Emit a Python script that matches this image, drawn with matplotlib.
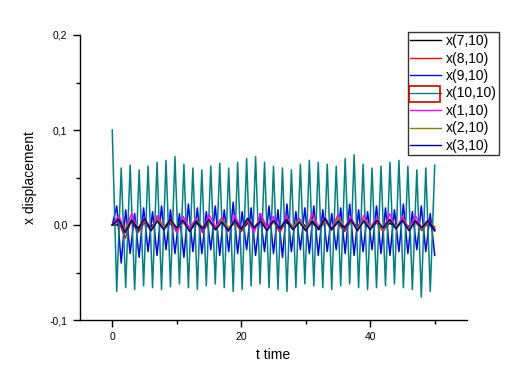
import numpy as np
import matplotlib
matplotlib.use("Agg")
import matplotlib.pyplot as plt
from matplotlib.patches import Rectangle
from matplotlib.ticker import MultipleLocator, FuncFormatter

plt.rcParams['font.family'] = ['Liberation Sans', 'DejaVu Sans']

# x(10,10): alternating extremes, start at t=0
x10_10 = [0.100,
          -0.070, 0.060, -0.066, 0.063, -0.068, 0.058, -0.064, 0.062, -0.066, 0.066,
          -0.068, 0.068, -0.065, 0.072, -0.062, 0.064, -0.066, 0.060, -0.068, 0.058,
          -0.064, 0.062, -0.062, 0.065, -0.066, 0.060, -0.070, 0.066, -0.068, 0.070,
          -0.064, 0.072, -0.062, 0.066, -0.066, 0.062, -0.068, 0.060, -0.070, 0.058,
          -0.066, 0.064, -0.062, 0.068, -0.064, 0.066, -0.066, 0.064, -0.068, 0.062,
          -0.064, 0.070, -0.062, 0.074, -0.066, 0.064, -0.068, 0.060, -0.066, 0.062,
          -0.064, 0.066, -0.062, 0.068, -0.066, 0.062, -0.068, 0.058, -0.076, 0.060,
          -0.070, 0.063]

# x(9,10): alternating extremes
x9_10 = [0.000,
         0.020, -0.040, 0.016, -0.030, 0.012, -0.034, 0.018, -0.028, 0.014, -0.032,
         0.020, -0.026, 0.016, -0.030, 0.012, -0.034, 0.022, -0.028, 0.018, -0.030,
         0.014, -0.026, 0.020, -0.032, 0.016, -0.028, 0.024, -0.030, 0.014, -0.026,
         0.018, -0.032, 0.012, -0.028, 0.020, -0.030, 0.016, -0.034, 0.022, -0.028,
         0.014, -0.026, 0.018, -0.030, 0.020, -0.032, 0.016, -0.028, 0.012, -0.026,
         0.018, -0.030, 0.022, -0.032, 0.016, -0.028, 0.014, -0.026, 0.020, -0.030,
         0.018, -0.032, 0.016, -0.028, 0.022, -0.030, 0.014, -0.026, 0.020, -0.028,
         0.012, -0.032]

# slower, small series sampled every 1 time unit (t = 0..50)
x7_10 = [0.000, 0.000, -0.004, 0.003, -0.006, 0.004, -0.002, 0.005, -0.004, 0.002,
         -0.005, 0.003, -0.006, 0.002, -0.003, 0.004, -0.002, 0.005, -0.004, 0.003,
         -0.006, 0.002, -0.003, 0.005, -0.002, 0.004, -0.005, 0.003, -0.004, 0.006,
         -0.002, 0.003, -0.005, 0.004, -0.003, 0.002, -0.006, 0.004, -0.002, 0.005,
         -0.004, 0.003, -0.005, 0.002, -0.003, 0.004, -0.002, 0.005, -0.004, 0.002,
         -0.006]
x8_10 = [0.000, 0.004, -0.014, 0.006, -0.008, 0.003, -0.006, 0.007, -0.004, 0.002,
         -0.007, 0.005, -0.003, 0.006, -0.008, 0.004, -0.002, 0.006, -0.005, 0.003,
         -0.007, 0.005, -0.004, 0.007, -0.003, 0.004, -0.008, 0.006, -0.002, 0.005,
         -0.006, 0.004, -0.003, 0.007, -0.005, 0.003, -0.007, 0.005, -0.002, 0.006,
         -0.004, 0.003, -0.007, 0.005, -0.003, 0.006, -0.004, 0.004, -0.006, 0.003,
         -0.004]
x1_10 = [0.000, 0.010, -0.006, 0.012, -0.004, 0.008, -0.006, 0.010, -0.003, 0.006,
         -0.008, 0.009, -0.004, 0.007, -0.006, 0.011, -0.002, 0.008, -0.007, 0.010,
         -0.004, 0.006, -0.008, 0.012, -0.003, 0.009, -0.006, 0.010, -0.004, 0.007,
         -0.006, 0.012, -0.002, 0.008, -0.005, 0.011, -0.004, 0.009, -0.007, 0.010,
         -0.003, 0.008, -0.006, 0.012, -0.004, 0.009, -0.005, 0.010, -0.003, 0.006,
         -0.004]
x2_10 = [0.000, 0.005, -0.004, 0.006, -0.003, 0.004, -0.005, 0.006, -0.002, 0.005,
         -0.004, 0.003, -0.006, 0.005, -0.002, 0.004, -0.005, 0.006, -0.003, 0.004,
         -0.004, 0.007, -0.002, 0.005, -0.006, 0.003, -0.004, 0.006, -0.002, 0.005,
         -0.004, 0.006, -0.003, 0.004, -0.005, 0.008, -0.002, 0.005, -0.004, 0.006,
         -0.003, 0.004, -0.005, 0.006, -0.002, 0.005, -0.004, 0.003, -0.005, 0.004,
         -0.002]
x3_10 = [0.000, 0.006, -0.008, 0.005, -0.004, 0.007, -0.006, 0.004, -0.005, 0.006,
         -0.003, 0.005, -0.007, 0.004, -0.004, 0.006, -0.005, 0.003, -0.006, 0.005,
         -0.004, 0.007, -0.003, 0.004, -0.006, 0.005, -0.004, 0.006, -0.005, 0.003,
         -0.006, 0.004, -0.004, 0.007, -0.005, 0.004, -0.003, 0.006, -0.006, 0.004,
         -0.005, 0.005, -0.003, 0.006, -0.004, 0.005, -0.006, 0.004, -0.003, 0.005,
         -0.006]

t_fast = np.linspace(0, 50, len(x10_10))
t_slow = np.linspace(0, 50, len(x7_10))

fig = plt.figure(figsize=(5.22, 3.86), dpi=100)
ax = fig.add_axes([80/522, 1-320/386, (467-80)/522, (320-35)/386])

lw = 1.1
series = [
    (t_slow, x7_10, '#000000', 'x(7,10)'),
    (t_slow, x8_10, '#ff0000', 'x(8,10)'),
    (t_fast, x9_10, '#0000ff', 'x(9,10)'),
    (t_fast, x10_10, '#008080', 'x(10,10)'),
    (t_slow, x1_10, '#ff00ff', 'x(1,10)'),
    (t_slow, x2_10, '#808000', 'x(2,10)'),
    (t_slow, x3_10, '#000080', 'x(3,10)'),
]
lines = []
for t, y, c, lab in series:
    ln, = ax.plot(t, y, color=c, lw=lw, label=lab)
    lines.append(ln)

ax.set_xlim(-5, 55)
ax.set_ylim(-0.1, 0.2)
for s in ['top', 'right']:
    ax.spines[s].set_visible(False)
ax.spines['left'].set_linewidth(1.0)
ax.spines['bottom'].set_linewidth(1.0)

ax.xaxis.set_major_locator(MultipleLocator(20))
ax.xaxis.set_minor_locator(MultipleLocator(10))
ax.yaxis.set_major_locator(MultipleLocator(0.1))
ax.yaxis.set_minor_locator(MultipleLocator(0.05))
ax.xaxis.set_major_formatter(FuncFormatter(lambda v, p: f"{v:.0f}"))
ax.yaxis.set_major_formatter(FuncFormatter(lambda v, p: f"{v:.1f}".replace('.', ',').replace('-0,0', '0,0')))
ax.tick_params(which='major', direction='out', length=5, width=1, labelsize=7.5, pad=4)
ax.tick_params(which='minor', direction='out', length=3, width=1)

ax.set_xlabel('t time', fontsize=10, labelpad=4)
ax.set_ylabel('x displacement', fontsize=10, labelpad=9)

leg = fig.legend(handles=lines, loc='upper right',
                 bbox_to_anchor=(499/522, 1-32/386), bbox_transform=fig.transFigure,
                 fontsize=10, frameon=True, fancybox=False, edgecolor='black',
                 handlelength=2.25, handletextpad=0.36, labelspacing=0.25,
                 borderpad=0.15, borderaxespad=0)
leg.get_frame().set_linewidth(1.0)
for ln in leg.get_lines():
    ln.set_linewidth(1.0)

fig.add_artist(Rectangle((409/522, 1-102/386), 31/522, 16/386,
                         transform=fig.transFigure, fill=False,
                         edgecolor='#d00000', linewidth=1.2, zorder=20))

fig.savefig('out.png', dpi=100)
